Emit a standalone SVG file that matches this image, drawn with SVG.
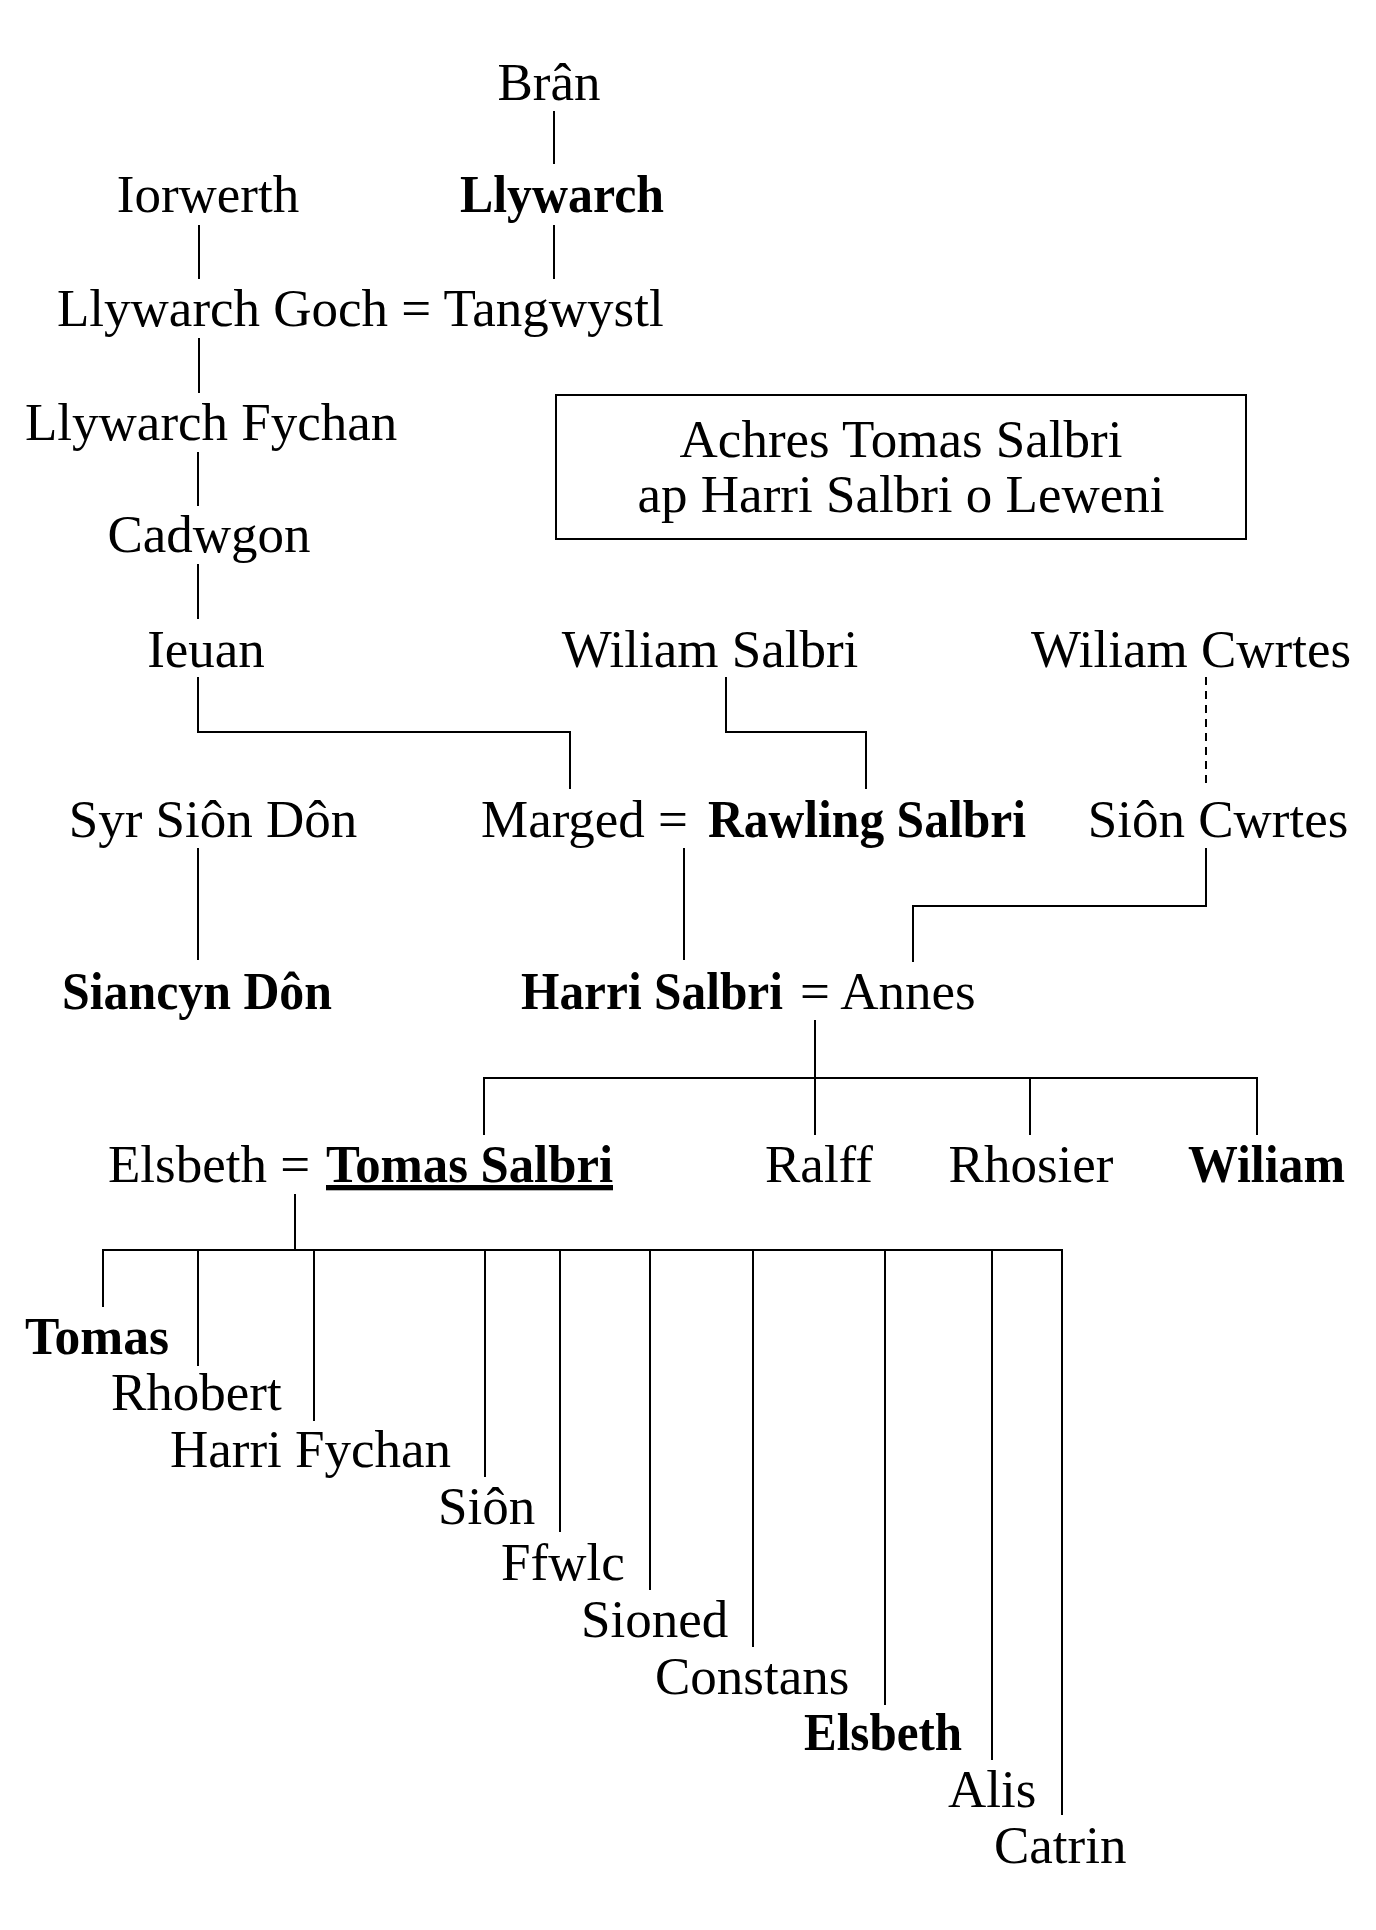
<svg xmlns="http://www.w3.org/2000/svg" width="1376" height="1930" viewBox="0 0 1376 1930">
<style>
text{font-family:"Liberation Serif","Times New Roman",serif;font-size:53px;fill:#000}
.b{font-weight:bold}
.m{text-anchor:middle}
.c{fill:none;stroke:#000;stroke-width:2}
.d{stroke-dasharray:8 6}
</style>
<rect width="1376" height="1930" fill="#fff"/>
<g id="connectors" class="c">
<path class="c" d="M554 111V164"/>
<path class="c" d="M199 225V279"/>
<path class="c" d="M554 225V279"/>
<path class="c" d="M199 338V393"/>
<path class="c" d="M198 452V506"/>
<path class="c" d="M198 564V619"/>
<path class="c" d="M198 677V732H570V789"/>
<path class="c" d="M726 677V732H866V789"/>
<path class="c d" d="M1206 677V783"/>
<path class="c" d="M198 848V960"/>
<path class="c" d="M684 848V960"/>
<path class="c" d="M1206 848V906H913V962"/>
<path class="c" d="M815 1020V1135"/>
<path class="c" d="M484 1135V1078H1257V1135"/>
<path class="c" d="M1030 1078V1135"/>
<path class="c" d="M295 1194V1250"/>
<path class="c" d="M103 1307V1250H1062V1815"/>
<path class="c" d="M198 1250V1366"/>
<path class="c" d="M314 1250V1421"/>
<path class="c" d="M485 1250V1477"/>
<path class="c" d="M560 1250V1532"/>
<path class="c" d="M650 1250V1590"/>
<path class="c" d="M753 1250V1647"/>
<path class="c" d="M885 1250V1705"/>
<path class="c" d="M992 1250V1760"/>
</g>
<g id="title"><rect x="556" y="395" width="690" height="144" class="c"/><text class="m" x="901" y="457">Achres Tomas Salbri</text><text class="m" x="901" y="512">ap Harri Salbri o Leweni</text></g>
<g id="bran"><text class="m" x="549" y="100">Brân</text></g>
<g id="iorwerth"><text class="m" x="208" y="212">Iorwerth</text></g>
<g id="llywarch"><text class="b" x="460" y="212" textLength="204" lengthAdjust="spacingAndGlyphs">Llywarch</text></g>
<g id="llywarch-goch"><text x="57" y="326">Llywarch Goch = Tangwystl</text></g>
<g id="llywarch-fychan"><text x="25" y="440">Llywarch Fychan</text></g>
<g id="cadwgon"><text class="m" x="209" y="552">Cadwgon</text></g>
<g id="ieuan"><text class="m" x="206" y="667">Ieuan</text></g>
<g id="wiliam-salbri"><text class="m" x="710" y="667">Wiliam Salbri</text></g>
<g id="wiliam-cwrtes"><text class="m" x="1191" y="667">Wiliam Cwrtes</text></g>
<g id="syr-sion-don"><text class="m" x="213" y="837">Syr Siôn Dôn</text></g>
<g id="marged-rawling"><text x="481" y="837">Marged =</text><text class="b" x="708" y="837" textLength="318" lengthAdjust="spacingAndGlyphs">Rawling Salbri</text></g>
<g id="sion-cwrtes"><text class="m" x="1218" y="837">Siôn Cwrtes</text></g>
<g id="siancyn-don"><text class="b" x="62" y="1009" textLength="270" lengthAdjust="spacingAndGlyphs">Siancyn Dôn</text></g>
<g id="harri-annes"><text class="b" x="521" y="1009" textLength="262" lengthAdjust="spacingAndGlyphs">Harri Salbri</text><text x="800" y="1009">= Annes</text></g>
<g id="elsbeth-tomas"><text x="108" y="1182">Elsbeth =</text><text class="b" x="326" y="1182" textLength="287" lengthAdjust="spacingAndGlyphs" text-decoration="underline">Tomas Salbri</text></g>
<g id="ralff"><text class="m" x="819" y="1182">Ralff</text></g>
<g id="rhosier"><text class="m" x="1031" y="1182">Rhosier</text></g>
<g id="wiliam"><text class="b" x="1188" y="1182" textLength="157" lengthAdjust="spacingAndGlyphs">Wiliam</text></g>
<g id="tomas"><text class="b" x="25" y="1354" textLength="144" lengthAdjust="spacingAndGlyphs">Tomas</text></g>
<g id="rhobert"><text x="111" y="1410">Rhobert</text></g>
<g id="harri-fychan"><text x="170" y="1467">Harri Fychan</text></g>
<g id="sion"><text x="438" y="1524">Siôn</text></g>
<g id="ffwlc"><text x="501" y="1580">Ffwlc</text></g>
<g id="sioned"><text x="581" y="1637">Sioned</text></g>
<g id="constans"><text x="655" y="1694">Constans</text></g>
<g id="elsbeth"><text class="b" x="804" y="1750" textLength="158" lengthAdjust="spacingAndGlyphs">Elsbeth</text></g>
<g id="alis"><text x="948" y="1807">Alis</text></g>
<g id="catrin"><text x="994" y="1863">Catrin</text></g>
</svg>
